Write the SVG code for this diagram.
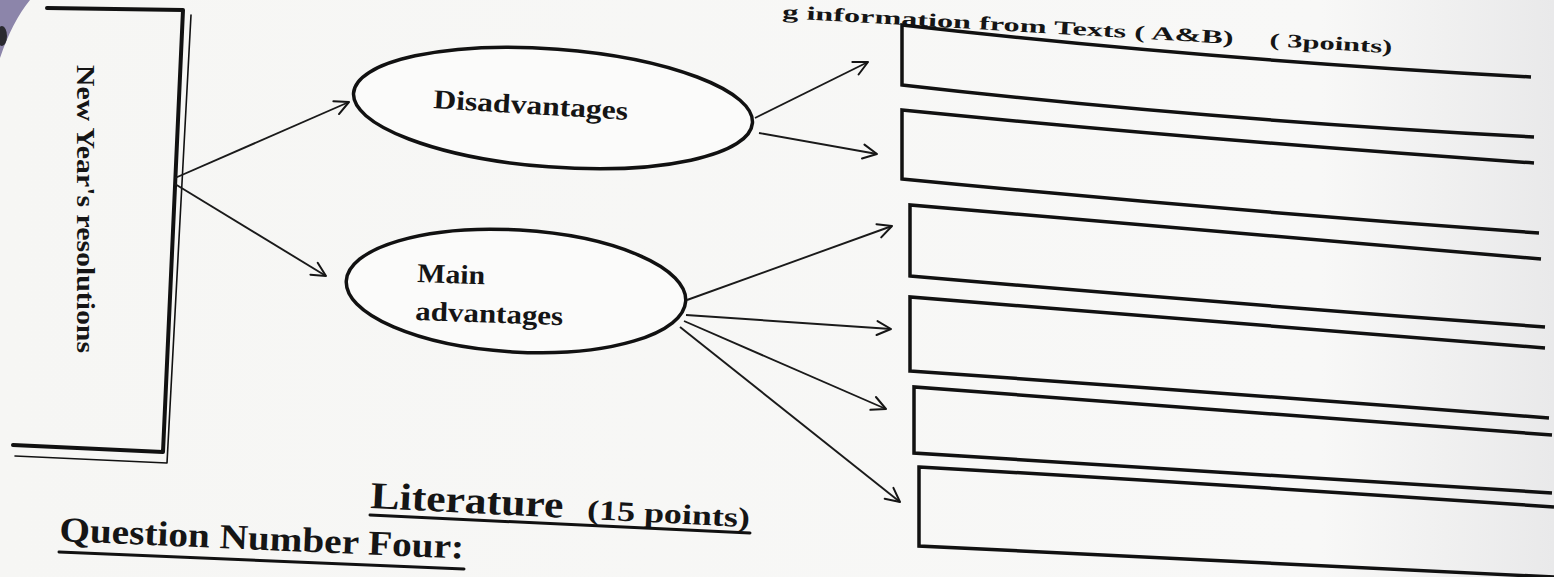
<svg xmlns="http://www.w3.org/2000/svg" width="1554" height="577" viewBox="0 0 1554 577">
<defs>
<linearGradient id="bg" x1="0" y1="0" x2="1" y2="0">
<stop offset="0" stop-color="#f6f6f4"/>
<stop offset="0.85" stop-color="#f8f8f7"/>
<stop offset="1" stop-color="#e9e9ea"/>
</linearGradient>
<marker id="ah" viewBox="-16 -9 18 18" markerWidth="18" markerHeight="18" refX="0" refY="0" orient="auto" markerUnits="userSpaceOnUse">
<path d="M-14,-7 L0,0 L-14,7" fill="none" stroke="#151515" stroke-width="2" stroke-linecap="round" stroke-linejoin="round"/>
</marker>
<style>
.ln{fill:none;stroke:#111;stroke-linecap:round;stroke-linejoin:round}
.box{fill:none;stroke:#111;stroke-width:3.5;stroke-linejoin:miter}
.ell{fill:#fbfbfa;stroke:#111;stroke-width:3.5}
.con{fill:none;stroke:#1a1a1a;stroke-width:1.9;marker-end:url(#ah)}
.t{font-family:"Liberation Serif","Times New Roman",serif;font-weight:bold;fill:#151515}
</style>
</defs>
<rect x="0" y="0" width="1554" height="577" fill="url(#bg)"/>
<path d="M0,0 L30,0 Q12,22 0,58 Z" fill="#8c85aa"/>
<ellipse cx="2" cy="36" rx="5" ry="10" fill="#2a2a30"/>

<g id="header">
<text class="t" font-size="19" transform="translate(782,18) rotate(3.3)" textLength="452" lengthAdjust="spacingAndGlyphs">g information from Texts ( A&amp;B)</text>
<text class="t" font-size="19" transform="translate(782,18) rotate(3.3) translate(488,0)" textLength="123" lengthAdjust="spacingAndGlyphs">( 3points)</text>
</g>

<g id="node-resolutions">
<path class="ln" stroke-width="4" d="M47,8 L183,10 L163,452 L13,445"/>
<path class="ln" stroke-width="1.6" d="M191,15 L167,463 L15,456"/>
<text class="t" font-size="26" transform="translate(77,65) rotate(90)" textLength="288" lengthAdjust="spacingAndGlyphs">New Year's resolutions</text>
</g>

<g id="node-disadvantages">
<ellipse class="ell" cx="553" cy="108" rx="200" ry="59" transform="rotate(4.3 553 108)"/>
<text class="t" font-size="27" transform="translate(433,108) rotate(3.5)" textLength="195" lengthAdjust="spacingAndGlyphs">Disadvantages</text>
</g>

<g id="node-main-advantages">
<ellipse class="ell" cx="516" cy="291" rx="170" ry="61" transform="rotate(3.4 516 291)"/>
<text class="t" font-size="27" transform="translate(417,282) rotate(2)" textLength="68" lengthAdjust="spacingAndGlyphs">Main</text>
<text class="t" font-size="27" transform="translate(415,320) rotate(2)" textLength="148" lengthAdjust="spacingAndGlyphs">advantages</text>
</g>

<g id="node-box1"><path class="box" d="M1531,77 Q1200,59 902,25 L902,85 Q1198,119 1534,137"/></g>
<g id="node-box2"><path class="box" d="M1534,163 Q1198,139.5 902,110 L902,179 Q1220,210 1539,233"/></g>
<g id="node-box3"><path class="box" d="M1541,259 Q1225,233 910,205 L910,276 Q1227,303.5 1545,327"/></g>
<g id="node-box4"><path class="box" d="M1545,348 Q1227,322 910,297 L910,371 Q1229,393 1549,418"/></g>
<g id="node-box5"><path class="box" d="M1552,435 Q1233,411 914,387 L914,453 Q1233,473 1552,493"/></g>
<g id="node-box6"><path class="box" d="M1554,507 Q1235,485 919,467 L919,546 L1554,577"/></g>

<g id="connectors">
<line class="con" x1="175" y1="178" x2="349" y2="102"/>
<line class="con" x1="175" y1="184" x2="326" y2="276"/>
<line class="con" x1="755" y1="118" x2="868" y2="62"/>
<line class="con" x1="759" y1="133" x2="877" y2="154"/>
<line class="con" x1="687" y1="300" x2="892" y2="226"/>
<line class="con" x1="686" y1="315" x2="891" y2="329"/>
<line class="con" x1="684" y1="321" x2="886" y2="409"/>
<line class="con" x1="680" y1="327" x2="900" y2="502"/>
</g>

<g id="literature">
<text class="t" font-size="38" transform="translate(370,508) rotate(2.9)" textLength="193" lengthAdjust="spacingAndGlyphs">Literature</text>
<text class="t" font-size="28" transform="translate(370,508) rotate(2.9) translate(217,0)" textLength="163" lengthAdjust="spacingAndGlyphs">(15 points)</text>
<path class="ln" stroke-width="3" d="M370,515 L750,533"/>
</g>

<g id="question">
<text class="t" font-size="35" transform="translate(59,541) rotate(2.5)" textLength="405" lengthAdjust="spacingAndGlyphs">Question Number Four:</text>
<path class="ln" stroke-width="3" d="M59,552 L464,569"/>
</g>
</svg>
